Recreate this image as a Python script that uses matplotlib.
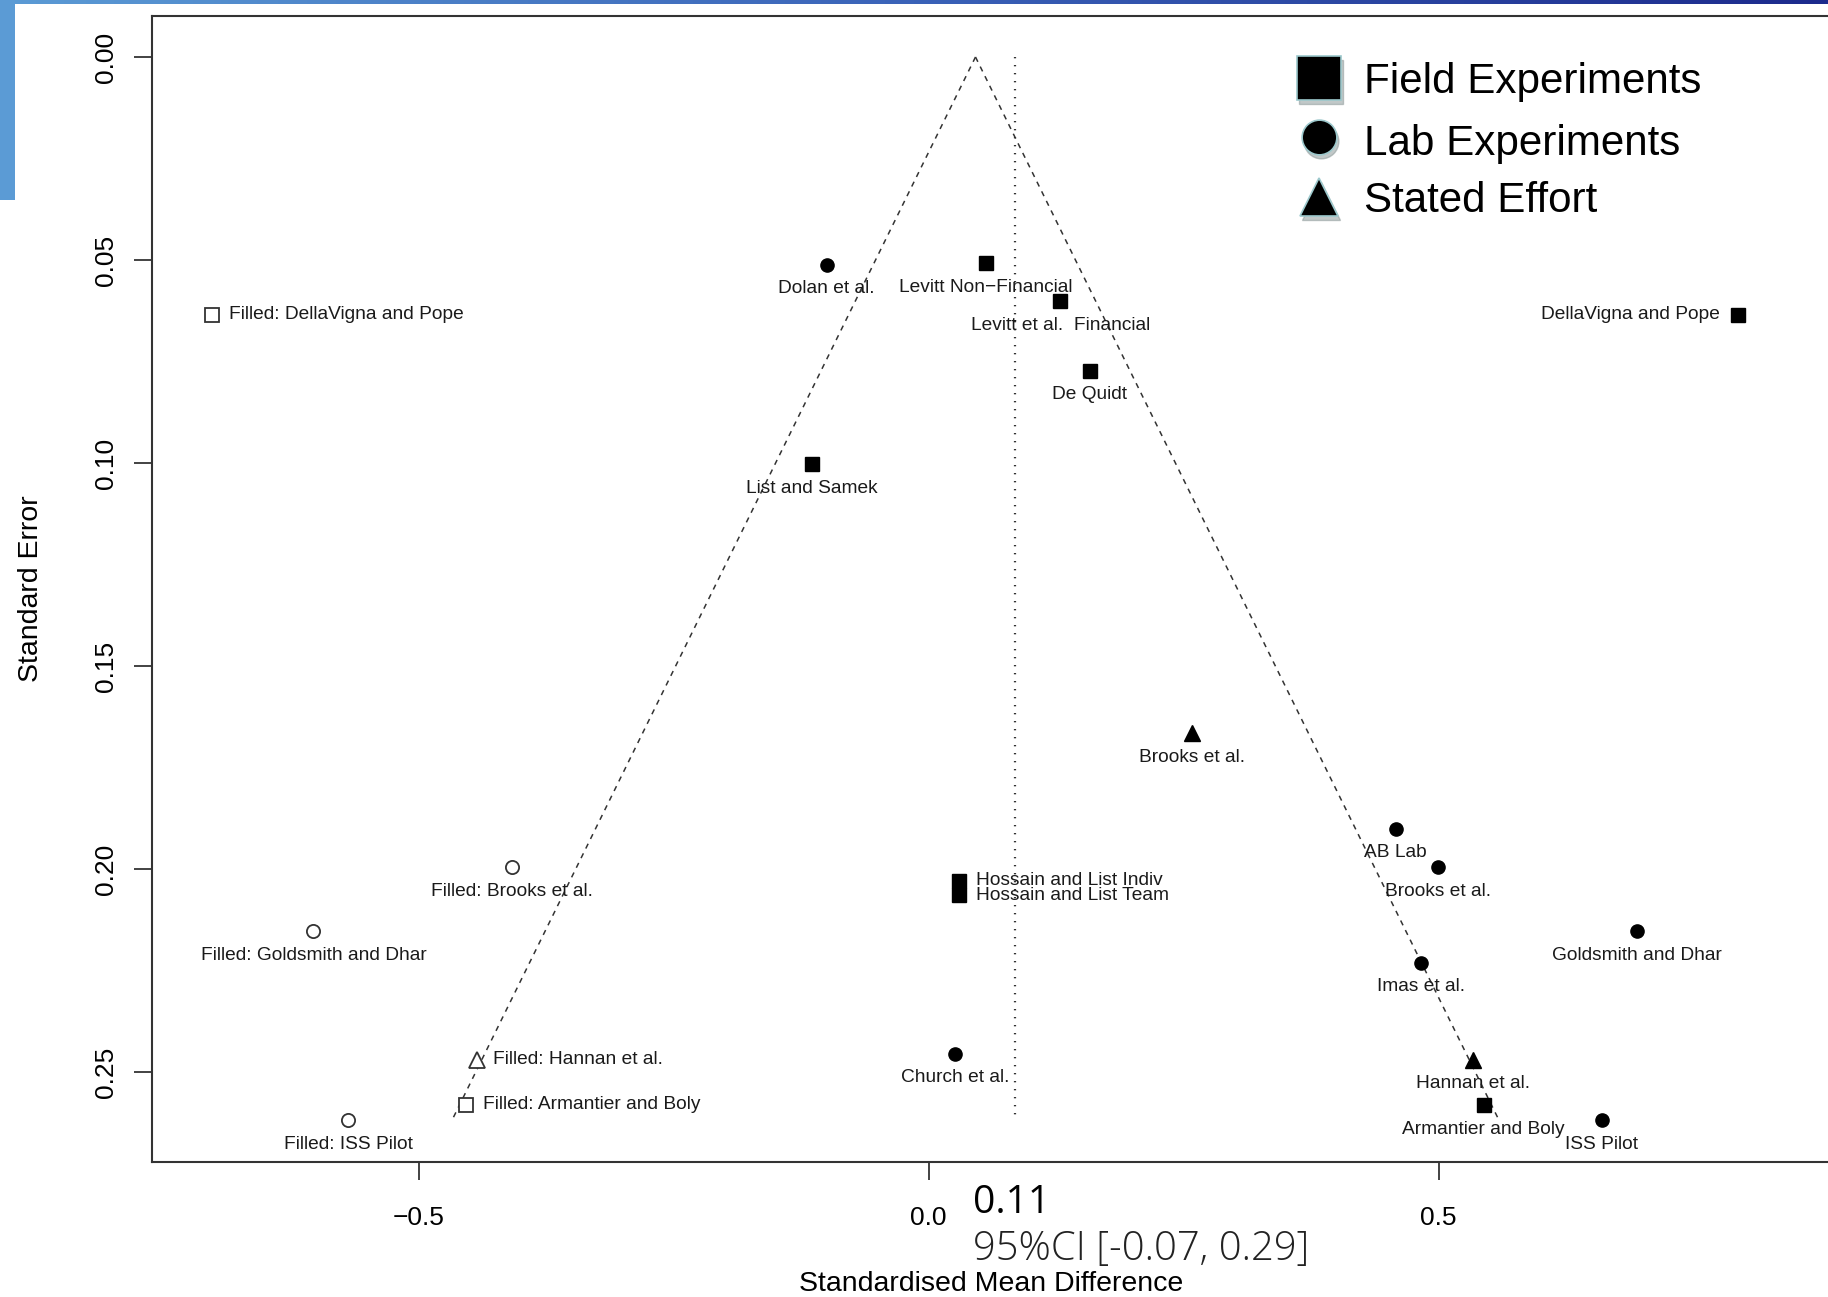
import numpy as np
import matplotlib.pyplot as plt
from matplotlib.colors import LinearSegmentedColormap
from matplotlib.patches import Rectangle

plt.rcParams['font.family'] = ['Liberation Sans', 'DejaVu Sans']

# observed studies
names = ['Levitt Non−Financial', 'Levitt et al.  Financial', 'De Quidt', 'DellaVigna and Pope',
         'List and Samek', 'Hossain and List Indiv', 'Hossain and List Team', 'Armantier and Boly',
         'Dolan et al.', 'AB Lab', 'Brooks et al.', 'Goldsmith and Dhar', 'Imas et al.',
         'Church et al.', 'ISS Pilot',
         'Brooks et al.', 'Hannan et al.']
smd = [0.056, 0.129, 0.158, 0.793, -0.114, 0.030, 0.030, 0.544,
       -0.100, 0.458, 0.499, 0.694, 0.483, 0.026, 0.660,
       0.258, 0.534]
se = [0.0508, 0.0602, 0.0772, 0.0635, 0.1002, 0.2029, 0.2064, 0.2580,
      0.0511, 0.1900, 0.1995, 0.2152, 0.2230, 0.2454, 0.2617,
      0.1665, 0.2469]
kind = ['field'] * 8 + ['lab'] * 7 + ['stated'] * 2

# studies imputed by trim and fill
filled_names = ['Filled: DellaVigna and Pope', 'Filled: Brooks et al.', 'Filled: Goldsmith and Dhar',
                'Filled: Hannan et al.', 'Filled: Armantier and Boly', 'Filled: ISS Pilot']
filled_smd = [-0.702, -0.408, -0.603, -0.443, -0.453, -0.569]
filled_se = [0.0635, 0.1995, 0.2152, 0.2469, 0.2580, 0.2617]
filled_kind = ['field', 'lab', 'lab', 'stated', 'field', 'lab']

funnel_center = 0.046
ref_line = 0.0845
se_max = 0.2618

legend_labels = ['Field Experiments', 'Lab Experiments', 'Stated Effort']
estimate_text = '0.11'
ci_text = '95%CI [-0.07, 0.29]'

markers = {'field': ('s', 10), 'lab': ('o', 9.5), 'stated': ('^', 12)}
side = {'DellaVigna and Pope': 'left', 'Hossain and List Indiv': 'right',
        'Hossain and List Team': 'right', 'Filled: DellaVigna and Pope': 'right',
        'Filled: Hannan et al.': 'right', 'Filled: Armantier and Boly': 'right'}

fig = plt.figure(figsize=(18.28, 12.97), dpi=100)
ax = fig.add_axes([0.0829, 0.1041, 0.9271, 0.8838])

# funnel and reference line
se_range = np.array([0, se_max])
ax.plot(funnel_center - 1.96 * se_range, se_range, color='#333333', lw=1.1, linestyle=(0, (3.5, 3.5)))
ax.plot(funnel_center + 1.96 * se_range, se_range, color='#333333', lw=1.1, linestyle=(0, (3.5, 3.5)))
ax.plot([ref_line, ref_line], se_range, color='#333333', lw=1.6, linestyle=(0, (0.6, 3.0)))


def put_label(x, y, text):
    where = side.get(text, 'below')
    if where == 'left':
        ax.annotate(text, (x, y), xytext=(-13, 0), textcoords='offset points',
                    ha='right', va='center', fontsize=13.8, color='#1a1a1a')
    elif where == 'right':
        ax.annotate(text, (x, y), xytext=(12, 0), textcoords='offset points',
                    ha='left', va='center', fontsize=13.8, color='#1a1a1a')
    else:
        ax.annotate(text, (x, y), xytext=(0, -17.5), textcoords='offset points',
                    ha='center', va='center', fontsize=13.8, color='#1a1a1a')


for n, x, s, k in zip(names, smd, se, kind):
    m, ms = markers[k]
    ax.plot(x, s, marker=m, markersize=ms, color='black', linestyle='none')
    put_label(x, s, n)

for n, x, s, k in zip(filled_names, filled_smd, filled_se, filled_kind):
    m, ms = markers[k]
    ax.plot(x, s, marker=m, markersize=ms, markerfacecolor='white', markeredgecolor='#333333',
            markeredgewidth=1.3, linestyle='none')
    put_label(x, s, n)

ax.set_xlim(-0.7617, 0.8996)
ax.set_ylim(0.2721, -0.01017)
ax.set_xticks([-0.5, 0.0, 0.5])
ax.set_xticklabels(['−0.5', '0.0', '0.5'])
ax.set_yticks([0.0, 0.05, 0.10, 0.15, 0.20, 0.25])
ax.set_yticklabels(['0.00', '0.05', '0.10', '0.15', '0.20', '0.25'], rotation=90, va='center')
ax.tick_params(axis='both', length=13, width=1.2, labelsize=19, color='#222222')
ax.tick_params(axis='x', pad=19)
ax.tick_params(axis='y', pad=11)
for sp in ax.spines.values():
    sp.set_linewidth(1.5)
    sp.set_color('#333333')

fig.text(0.0172, 0.546, 'Standard Error', rotation=90, ha='center', va='center', fontsize=20.5)
fig.text(0.542, 0.0045, 'Standardised Mean Difference', ha='center', va='baseline', fontsize=20.5)
fig.text(0.5323, 0.0648, estimate_text, ha='left', va='baseline', fontsize=28,
         family=['Open Sans', 'DejaVu Sans'])
fig.text(0.5323, 0.0285, ci_text, ha='left', va='baseline', fontsize=28.8,
         family=['Open Sans', 'DejaVu Sans'], fontweight='light', color='#222222')

# overlay in image pixels: slide decoration and legend
over = fig.add_axes([0, 0, 1, 1])
over.set_xlim(0, 1828)
over.set_ylim(1297, 0)
over.axis('off')
grad = LinearSegmentedColormap.from_list('bar', ['#5b9bd5', '#3a62b8', '#1c2a8c'])
over.imshow(np.linspace(0, 1, 256).reshape(1, -1), cmap=grad, aspect='auto', extent=[0, 1828, 4, 0])
over.add_patch(Rectangle((0, 0), 15, 200, color='#5b9bd5', lw=0))

leg_markers = [('s', 31), ('o', 25), ('^', 27)]
leg_y = [78, 137, 197]
leg_base = [92.5, 155, 211.5]
for (m, ms), yy, yb, lab in zip(leg_markers, leg_y, leg_base, legend_labels):
    over.plot(1321, yy + 4, marker=m, markersize=ms, color='#8f9b9b', alpha=0.55, linestyle='none')
    over.plot(1319, yy, marker=m, markersize=ms, markerfacecolor='black', markeredgecolor='#9cc8cc',
              markeredgewidth=1.2, linestyle='none')
    over.text(1364, yb, lab, ha='left', va='baseline', fontsize=30.3)
over.set_xlim(0, 1828)
over.set_ylim(1297, 0)

fig.savefig('out.png', dpi=100)
